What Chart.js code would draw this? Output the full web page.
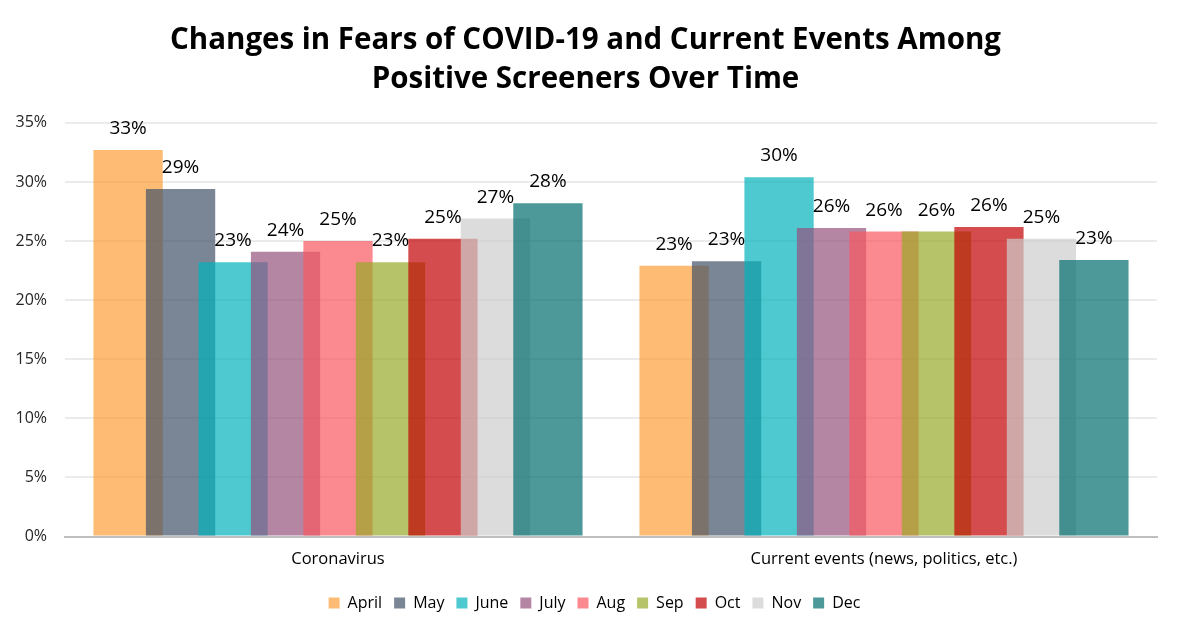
<!DOCTYPE html>
<html>
<head>
<meta charset="utf-8">
<script src="https://cdn.jsdelivr.net/npm/chart.js@4.4.1/dist/chart.umd.min.js"></script>
<style>
  html, body { margin: 0; padding: 0; background: #ffffff; }
  #wrap { width: 1180px; height: 632px; }
</style>
</head>
<body>
<div id="wrap"><canvas id="fearsChart"></canvas></div>
<script>
/* ============================================
   Fears of COVID-19 / current events — grouped bars
   ============================================ */

const categories = ['Coronavirus', 'Current events (news, politics, etc.)'];
const months = ['April', 'May', 'June', 'July', 'Aug', 'Sep', 'Oct', 'Nov', 'Dec'];

// percent values, per month: [Coronavirus, Current events]
const april = [32.7, 22.9];
const may   = [29.4, 23.3];
const june  = [23.2, 30.4];
const july  = [24.1, 26.1];
const aug   = [25.0, 25.8];
const sep   = [23.2, 25.8];
const oct   = [25.2, 26.2];
const nov   = [26.9, 25.2];
const dec   = [28.2, 23.4];

const yTicks = [0, 5, 10, 15, 20, 25, 30, 35];

// bars are drawn semi-transparent so neighbours overlap like the original
const monthColors = [
  'rgba(252, 158, 55, 0.7)',
  'rgba(65, 83, 104, 0.7)',
  'rgba(1, 178, 186, 0.7)',
  'rgba(149, 81, 125, 0.7)',
  'rgba(248, 89, 95, 0.7)',
  'rgba(151, 169, 42, 0.7)',
  'rgba(194, 0, 2, 0.7)',
  'rgba(205, 205, 205, 0.7)',
  'rgba(1, 109, 109, 0.7)'
];

const seriesValues = [april, may, june, july, aug, sep, oct, nov, dec];
const FONT = "'Open Sans', 'Noto Sans', sans-serif";

// Chart.js paints dataset 0 last (on top); the original has later months on top,
// so paint the datasets ourselves in index order.
const drawOrder = {
  id: 'drawOrder',
  beforeDatasetsDraw(chart) {
    for (let i = 0; i < chart.data.datasets.length; i++) {
      chart.getDatasetMeta(i).controller.draw();
    }
    return false;
  }
};

// legend in the original sits a little right of centre
const legendNudge = {
  id: 'legendNudge',
  afterLayout(chart) {
    chart.legend.left += 9;
    chart.legend.right += 9;
  }
};

// simple inline value-label plugin (no datalabels plugin available)
const valueLabels = {
  id: 'valueLabels',
  afterDraw(chart) {
    const ctx = chart.ctx;
    ctx.save();
    ctx.fillStyle = '#000000';
    ctx.font = `19px ${FONT}`;
    ctx.textAlign = 'center';
    ctx.textBaseline = 'alphabetic';
    chart.data.datasets.forEach((ds, i) => {
      const meta = chart.getDatasetMeta(i);
      meta.data.forEach((bar, j) => {
        ctx.fillText(Math.round(ds.data[j]) + '%', bar.x, bar.y - 16);
      });
    });
    ctx.restore();
  }
};

new Chart(document.getElementById('fearsChart').getContext('2d'), {
  type: 'bar',
  data: {
    labels: categories,
    datasets: months.map((m, i) => ({
      label: m,
      data: seriesValues[i],
      backgroundColor: monthColors[i],
      borderWidth: 0,
      categoryPercentage: 0.865,
      barPercentage: 1.32
    }))
  },
  options: {
    responsive: true,
    maintainAspectRatio: false,
    animation: false,
    layout: { padding: { left: 14, right: 23, top: 0, bottom: 11 } },
    scales: {
      x: {
        grid: { display: false, drawTicks: false },
        border: { display: true, color: '#bfbfbf', width: 2 },
        ticks: { color: '#000000', font: { size: 16.5, family: FONT, lineHeight: 1.0 }, padding: 15 }
      },
      y: {
        min: 0,
        max: 35,
        afterBuildTicks: axis => { axis.ticks = yTicks.map(v => ({ value: v })); },
        afterFit: axis => { axis.width = 51; },
        grid: { color: '#ebebeb', lineWidth: 2, drawTicks: false },
        border: { display: false },
        ticks: {
          color: '#262626',
          font: { size: 16, family: FONT },
          padding: 18,
          callback: v => v + '%'
        }
      }
    },
    plugins: {
      title: {
        display: true,
        text: ['Changes in Fears of COVID-19 and Current Events Among', 'Positive Screeners Over Time'],
        color: '#000000',
        font: { size: 29.5, weight: 'bold', family: FONT, lineHeight: 1.32 },
        padding: { top: 21, bottom: 24 }
      },
      legend: {
        position: 'bottom',
        labels: {
          color: '#000000',
          font: { size: 16, family: FONT },
          boxWidth: 11,
          boxHeight: 11,
          padding: 12
        }
      },
      tooltip: { enabled: false }
    }
  },
  plugins: [drawOrder, legendNudge, valueLabels]
});
</script>
</body>
</html>
